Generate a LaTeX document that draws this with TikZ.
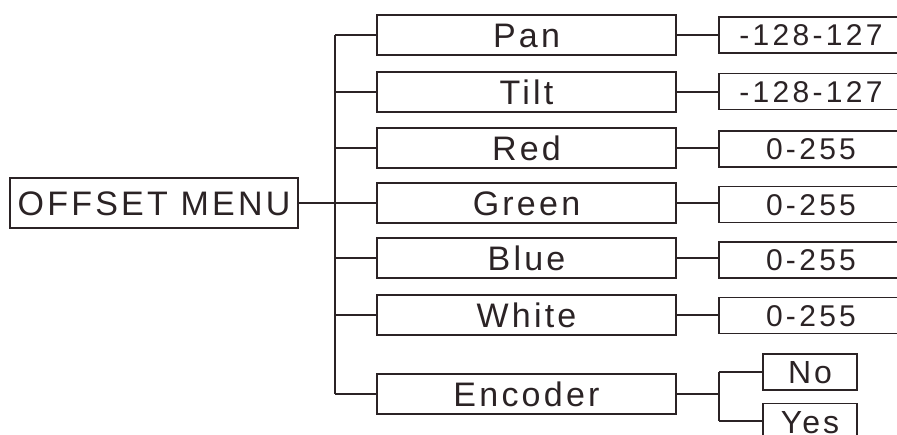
\documentclass[tikz,border=0pt]{standalone}
\usepackage{fontspec}
\setmainfont{Liberation Sans}[LetterSpace=9.5]
\newfontfamily\valfont{Liberation Sans}[LetterSpace=11]
\definecolor{ink}{HTML}{2B2325}
\tikzset{
  box/.style={draw=ink, line width=1.7pt, rectangle, inner sep=0pt, text=ink, text depth=0pt, align=center},
  menubox/.style={box, minimum width=299pt, minimum height=40pt, font=\fontsize{34}{38}\selectfont, text height=24.5pt},
  rootbox/.style={box, minimum width=288pt, minimum height=50pt, font=\fontsize{34}{38}\selectfont, text height=24.5pt},
  valbox/.style={box, minimum width=184pt, minimum height=36pt, font=\valfont\fontsize{30}{34}\selectfont, text height=21.5pt},
  optbox/.style={box, minimum width=94pt, minimum height=36pt, font=\fontsize{32}{36}\selectfont, text height=23pt},
  link/.style={draw=ink, line width=2pt}
}
\begin{document}
\begin{tikzpicture}[x=1pt, y=-1pt]
\useasboundingbox (0,0) rectangle (897,435);
\clip (0,0) rectangle (897,435);
% root
\node[rootbox] (menu) at (154,203) {OFFSET MENU};
% menu items
\node[menubox] (pan)   at (526.5,35)  {Pan};
\node[menubox] (tilt)  at (526.5,92)  {Tilt};
\node[menubox] (red)   at (526.5,148) {Red};
\node[menubox] (green) at (526.5,203) {Green};
\node[menubox] (blue)  at (526.5,258) {Blue};
\node[menubox] (white) at (526.5,315) {White};
\node[menubox] (enc)   at (526.5,394) {Encoder};
% values
\node[valbox] (vpan)   at (811,35)  {-128-127};
\node[valbox] (vtilt)  at (811,91.5) {-128-127};
\node[valbox] (vred)   at (811,149) {0-255};
\node[valbox] (vgreen) at (811,204.5) {0-255};
\node[valbox] (vblue)  at (811,260) {0-255};
\node[valbox] (vwhite) at (811,315.5) {0-255};
\node[optbox] (no)  at (810,372) {No};
\node[optbox] (yes) at (810,421.5) {Yes};
% trunk
\coordinate (tr) at (335,203);
\draw[link] (menu.east) -- (tr);
\draw[link] (tr |- pan.west) -- (tr |- enc.west);
\foreach \n in {pan,tilt,red,green,blue,white,enc}
  \draw[link] (tr |- \n.west) -- (\n.west);
% value links
\draw[link] (pan.east)   -- (vpan.west |- pan.east);
\draw[link] (tilt.east)  -- (vtilt.west |- tilt.east);
\draw[link] (red.east)   -- (vred.west |- red.east);
\draw[link] (green.east) -- (vgreen.west |- green.east);
\draw[link] (blue.east)  -- (vblue.west |- blue.east);
\draw[link] (white.east) -- (vwhite.west |- white.east);
% encoder options
\coordinate (ej) at (719,394);
\draw[link] (enc.east) -- (ej);
\draw[link] (ej |- no.west) -- (ej |- yes.west);
\draw[link] (ej |- no.west) -- (no.west);
\draw[link] (ej |- yes.west) -- (yes.west);
\end{tikzpicture}
\end{document}
